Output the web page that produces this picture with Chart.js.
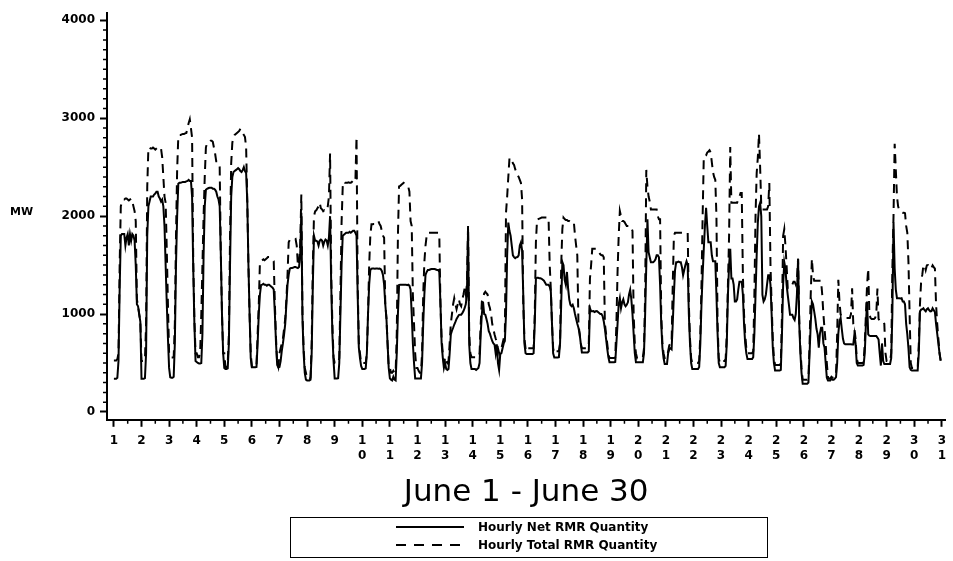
<!DOCTYPE html>
<html>
<head>
<meta charset="utf-8">
<script src="https://cdn.jsdelivr.net/npm/chart.js@4.4.1/dist/chart.umd.min.js"></script>
<style>
html,body{margin:0;padding:0;background:#fff;}
#wrap{position:relative;width:953px;height:561px;overflow:hidden;}
#c{position:absolute;left:0;top:0;}
#mw{position:absolute;left:10px;top:205px;font:bold 11px "DejaVu Sans",sans-serif;color:#000;}
#legend{position:absolute;left:290px;top:517px;width:478px;height:41px;border:1.5px solid #000;box-sizing:border-box;font:bold 12px "DejaVu Sans",sans-serif;color:#000;}
.lrow{position:absolute;left:0;height:14px;width:100%;}
.lrow svg{position:absolute;left:105px;top:5px;}
.lrow span{position:absolute;left:187px;top:0;line-height:14px;white-space:nowrap;}
</style>
</head>
<body>
<div id="wrap">
<canvas id="c" width="953" height="561"></canvas>
<div id="mw">MW</div>
<div id="legend">
  <div class="lrow" style="top:2px"><svg width="68" height="4"><line x1="0" y1="2" x2="68" y2="2" stroke="#000" stroke-width="2"/></svg><span>Hourly Net RMR Quantity</span></div>
  <div class="lrow" style="top:20px"><svg width="68" height="4"><line x1="0" y1="2" x2="68" y2="2" stroke="#000" stroke-width="2" stroke-dasharray="10 8"/></svg><span>Hourly Total RMR Quantity</span></div>
</div>
</div>
<script>
// Tick labels
const dayTicks = ['1','2','3','4','5','6','7','8','9','10','11','12','13','14','15','16','17','18','19','20','21','22','23','24','25','26','27','28','29','30','31'];
const yTicks = [0, 1000, 2000, 3000, 4000];

// Hourly Net RMR Quantity (MW), one line per day, June 1 .. June 30
const netRMR = [
 340,340,340,350,520,1250,1800,1817,1817,1817,1700,1780,1817,1700,1817,1750,1817,1800,1750,1500,1100,1080,1000,920,
 340,340,340,345,600,1800,2100,2150,2200,2200,2200,2220,2230,2250,2250,2200,2180,2150,2170,2100,1900,1500,1100,750,
 450,355,350,350,360,700,1500,2000,2330,2340,2340,2345,2350,2350,2350,2355,2360,2370,2360,2360,2200,1464,900,520,
 510,500,495,495,500,800,1600,2100,2270,2280,2285,2290,2290,2290,2280,2280,2270,2250,2200,2170,2100,1600,1000,600,
 450,440,440,445,700,1500,2200,2400,2450,2460,2470,2480,2490,2480,2460,2450,2470,2500,2460,2440,2150,1500,1000,550,
 457,457,457,457,460,700,1000,1200,1297,1300,1310,1300,1300,1290,1300,1300,1290,1280,1270,1250,1000,700,480,457,
 460,520,625,700,793,900,1100,1300,1400,1464,1470,1470,1475,1480,1480,1475,1470,1480,1600,2035,950,600,400,330,
 322,322,322,330,600,1300,1800,1750,1750,1740,1700,1750,1760,1750,1700,1740,1760,1750,1700,1780,2000,1300,800,524,
 343,343,343,345,500,1000,1500,1800,1810,1820,1830,1830,1830,1840,1830,1840,1850,1850,1830,1800,1200,658,550,470,
 440,440,440,445,600,1000,1300,1450,1464,1465,1465,1464,1465,1466,1464,1465,1460,1440,1400,1300,1100,960,700,450,
 343,330,322,360,330,322,600,1000,1297,1300,1300,1300,1300,1300,1300,1295,1300,1290,1250,1000,700,500,343,343,
 343,343,343,343,500,900,1200,1400,1430,1450,1450,1455,1460,1460,1460,1460,1455,1450,1450,1430,1100,700,557,450,
 500,440,430,440,600,793,830,860,893,920,950,970,990,994,994,1010,1030,1060,1100,1200,1867,690,500,440,
 440,440,440,430,440,450,500,800,1000,1128,1000,994,950,900,826,800,760,725,700,690,600,690,500,430,
 591,600,650,700,725,1000,1600,1934,1850,1800,1700,1600,1582,1570,1580,1582,1600,1700,1733,1650,1200,700,600,591,
 591,591,591,591,591,600,900,1363,1370,1370,1365,1365,1360,1350,1340,1320,1300,1300,1300,1280,1229,900,600,557,
 557,557,557,560,700,1100,1532,1500,1350,1300,1430,1263,1150,1095,1080,1095,1060,1000,950,900,860,800,700,607,
 607,607,607,607,607,620,1060,1030,1028,1030,1020,1028,1030,1020,1010,1000,1000,980,927,850,750,650,560,507,
 507,507,507,507,510,700,900,1100,1162,1060,1120,1150,1100,1080,1095,1120,1200,1248,1150,1000,800,600,507,507,
 507,507,507,507,507,600,1000,1500,1968,1632,1580,1530,1530,1530,1540,1560,1600,1600,1580,1300,900,658,550,490,
 490,490,600,640,650,640,900,1200,1450,1530,1530,1535,1530,1530,1480,1397,1450,1500,1540,1500,1000,700,500,440,
 440,440,440,440,440,460,700,1100,1400,1666,1900,2085,1900,1733,1733,1733,1600,1540,1540,1540,1200,800,500,457,
 457,457,457,457,470,700,1200,1500,1666,1363,1363,1300,1128,1128,1150,1250,1330,1330,1330,1200,900,700,600,540,
 540,540,540,540,560,800,1200,1600,1934,2100,2136,2000,1196,1128,1150,1200,1300,1397,1397,1300,1000,658,500,423,
 423,423,423,423,430,800,1300,1530,1464,1300,1196,1100,994,994,994,960,940,1000,1200,1565,900,600,400,289,
 289,289,289,289,300,600,900,1128,1100,1028,950,850,793,658,800,860,860,700,658,500,350,322,322,322,
 340,330,330,340,355,500,800,927,960,850,750,700,692,692,692,692,692,692,690,690,793,700,500,474,
 474,474,474,474,480,600,900,1128,793,780,776,776,776,776,776,776,760,740,600,474,700,520,490,490,
 490,490,490,490,550,1000,1934,1464,1250,1162,1162,1162,1160,1162,1128,1128,1100,900,793,650,457,430,423,423,
 423,423,423,423,600,1028,1045,1050,1060,1040,1028,1050,1060,1040,1028,1030,1060,1040,1020,900,800,700,600,524
];

// Hourly Total RMR Quantity (MW), one line per day
const totalRMR = [
 525,525,525,540,600,1500,2100,2150,2170,2170,2180,2180,2170,2160,2170,2180,2150,2100,2050,1950,1150,1080,1000,920,
 520,520,520,540,900,2300,2700,2700,2690,2690,2700,2690,2680,2690,2700,2690,2680,2690,2600,2400,2200,2136,1650,1100,
 600,560,557,557,560,900,1800,2472,2808,2830,2830,2835,2840,2840,2845,2850,2900,2950,2990,2900,2800,1550,950,600,
 600,560,560,600,1000,1500,2000,2400,2700,2750,2757,2760,2770,2770,2760,2700,2640,2560,2560,2550,2500,1600,1000,600,
 600,460,460,500,800,1800,2539,2750,2808,2830,2840,2850,2860,2870,2892,2880,2850,2830,2808,2700,2150,1500,1000,600,
 460,460,460,460,480,800,1100,1532,1540,1550,1560,1550,1560,1570,1582,1582,1570,1560,1550,1540,1100,750,500,460,
 600,650,700,750,850,950,1150,1400,1733,1760,1766,1766,1760,1760,1766,1700,1500,1500,1700,2220,1000,650,450,400,
 340,340,340,350,700,1500,2000,2050,2060,2080,2100,2136,2080,2070,2050,2060,2050,2070,2100,2200,2640,1400,900,560,
 500,500,500,500,550,1200,1934,2300,2354,2340,2340,2340,2345,2340,2340,2350,2340,2345,2350,2807,1300,700,600,500,
 500,500,500,500,600,1000,1500,1800,1917,1917,1920,1920,1930,1950,1950,1920,1900,1850,1800,1780,1100,960,700,450,
 450,400,400,420,400,400,800,1800,2304,2310,2320,2330,2340,2330,2320,2310,2300,2250,1950,1900,1200,900,600,450,
 450,420,400,400,600,1200,1532,1700,1800,1830,1830,1830,1830,1830,1830,1830,1830,1830,1830,1800,1100,750,600,500,
 560,520,500,520,700,900,1000,1100,1162,1100,1050,1100,1150,1100,1080,1150,1200,1262,1200,1300,1900,800,600,560,
 560,560,560,560,560,560,600,900,1128,1150,1212,1229,1212,1200,1100,1061,1000,900,850,793,750,720,650,600,
 650,650,700,750,800,2035,2200,2400,2590,2590,2590,2540,2522,2480,2450,2420,2400,2370,2338,2170,1100,750,650,620,
 650,650,650,650,650,650,1000,1733,1967,1970,1975,1980,1985,1985,1985,1985,1985,1985,1980,1500,1250,900,650,600,
 620,620,620,620,700,1500,1867,1985,1970,1960,1960,1950,1950,1940,1940,1940,1940,1800,1700,1600,900,800,700,650,
 650,650,650,650,650,700,1363,1500,1666,1666,1666,1666,1666,1650,1630,1610,1600,1600,1580,900,800,700,600,550,
 550,550,550,550,560,900,1430,1800,2052,2000,1950,1950,1940,1920,1900,1900,1900,1880,1880,1850,1000,700,600,550,
 560,560,560,560,560,650,1200,2472,2300,2200,2150,2069,2069,2069,2069,2069,2069,2000,1968,1968,1000,700,600,550,
 560,560,620,680,700,700,1300,1800,1830,1830,1830,1830,1830,1830,1830,1830,1830,1830,1830,1830,1100,750,550,500,
 500,500,500,500,500,520,800,1300,2000,2606,2606,2620,2650,2660,2673,2650,2550,2450,2400,2371,2000,900,550,500,
 520,520,520,520,540,800,1300,1800,2707,2136,2136,2136,2136,2136,2136,2180,2200,2237,2237,1400,1000,800,650,600,
 600,600,600,600,620,1200,2000,2440,2600,2841,2500,2100,2069,2069,2069,2069,2069,2100,2338,1500,1100,750,550,480,
 480,480,480,480,500,1000,1800,1867,1700,1500,1263,1263,1263,1280,1300,1330,1330,1300,1350,1565,950,650,450,330,
 330,330,330,330,340,700,1200,1565,1400,1340,1340,1340,1340,1340,1340,1340,1200,1000,850,700,500,356,340,340,
 360,350,350,360,380,800,1350,1128,994,980,970,965,960,960,960,960,960,1000,1263,900,850,750,550,500,
 500,500,500,500,520,700,1000,1300,1464,1000,960,950,950,950,960,1000,1260,950,930,927,927,927,900,600,
 520,520,520,520,600,1464,2000,2740,2471,2203,2100,2060,2050,2040,2035,2035,2030,1900,1830,1530,1000,500,450,450,
 450,450,450,450,700,1100,1330,1400,1498,1498,1450,1498,1500,1490,1498,1470,1498,1480,1464,1100,900,750,600,524
];

// hour index of each reading (0 = June 1, 00:00)
const hours = netRMR.map((_, i) => i);

const axisFont = {family: 'DejaVu Sans', weight: 'bold', size: 12, lineHeight: 1.25};

const minorTicks = {
  id: 'minorTicks',
  afterDraw(chart) {
    const ctx = chart.ctx, xs = chart.scales.x, ys = chart.scales.y;
    ctx.save();
    ctx.strokeStyle = '#000';
    ctx.lineWidth = 1.5;
    ctx.beginPath();
    for (let v = 100; v < 4000; v += 100) {
      if (v % 1000 === 0) continue;
      const py = ys.getPixelForValue(v);
      ctx.moveTo(xs.left - 4, py);
      ctx.lineTo(xs.left, py);
    }
    for (let h = 12; h < 720; h += 24) {
      const px = xs.getPixelForValue(h);
      ctx.moveTo(px, ys.bottom);
      ctx.lineTo(px, ys.bottom + 4);
    }
    ctx.stroke();
    ctx.restore();
  }
};

new Chart(document.getElementById('c'), {
  type: 'line',
  data: {
    labels: hours,
    datasets: [
      {label: 'Hourly Net RMR Quantity', data: netRMR, borderColor: '#000', borderWidth: 2, pointRadius: 0, tension: 0, fill: false},
      {label: 'Hourly Total RMR Quantity', data: totalRMR, borderColor: '#000', borderWidth: 2, borderDash: [9, 6], pointRadius: 0, tension: 0, fill: false}
    ]
  },
  options: {
    responsive: false,
    animation: false,
    events: [],
    layout: {padding: {left: 0, top: 7, right: 3, bottom: 44}},
    plugins: {
      legend: {display: false},
      tooltip: {enabled: false},
      title: {
        display: true, position: 'bottom', fullSize: false, text: 'June 1 - June 30', color: '#000',
        font: {family: 'DejaVu Sans', weight: 'normal', size: 31, lineHeight: 1.2},
        padding: {top: 0, bottom: 5}
      }
    },
    scales: {
      x: {
        type: 'linear', min: -6, max: 723,
        afterBuildTicks: s => { s.ticks = dayTicks.map((d, i) => ({value: i * 24})); },
        afterFit: s => { s.height = 55; },
        ticks: {
          autoSkip: false, maxRotation: 0, minRotation: 0, color: '#000', padding: 7, font: axisFont,
          callback: v => { const lab = dayTicks[Math.round(v / 24)]; return lab.length > 1 ? lab.split('') : lab; }
        },
        grid: {display: true, drawOnChartArea: false, drawTicks: true, tickLength: 7, tickWidth: 2, tickColor: '#000'},
        border: {display: true, color: '#000', width: 2}
      },
      y: {
        type: 'linear', min: -80, max: 4080,
        afterBuildTicks: s => { s.ticks = yTicks.map(v => ({value: v})); },
        afterFit: s => { s.width = 107; },
        ticks: {color: '#000', padding: 5, font: axisFont, callback: v => String(v)},
        grid: {display: true, drawOnChartArea: false, drawTicks: true, tickLength: 7, tickWidth: 2, tickColor: '#000'},
        border: {display: true, color: '#000', width: 2}
      }
    }
  },
  plugins: [minorTicks]
});
</script>
</body>
</html>
